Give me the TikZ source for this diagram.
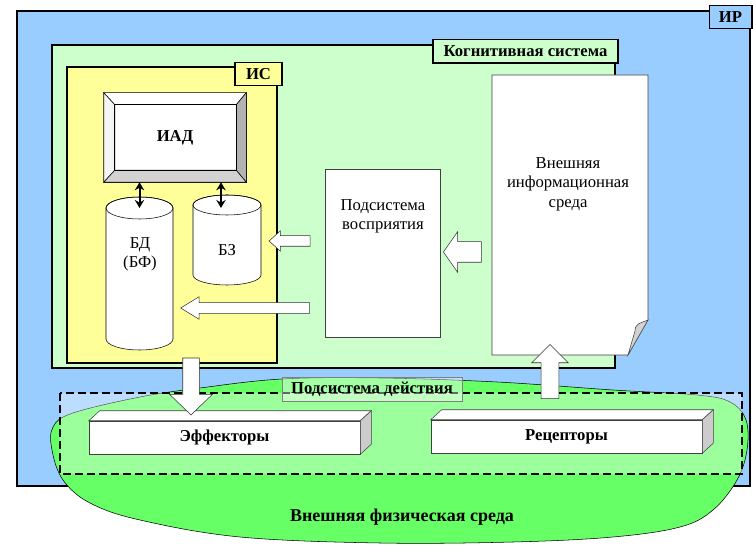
\documentclass[tikz,border=0pt]{standalone}
\usepackage{fontspec}
\setmainfont{Liberation Serif}
\usetikzlibrary{shapes.arrows,arrows.meta,calc}
\definecolor{irblue}{HTML}{99CCFF}
\definecolor{csgreen}{HTML}{CCFFCC}
\definecolor{isyellow}{HTML}{FFFF99}
\definecolor{envgreen}{HTML}{66FF66}
\tikzset{
	txt/.style={font=\rmfamily\fontsize{12.5}{14.5}\selectfont, align=center},
	lbl/.style={font=\rmfamily\bfseries\fontsize{12.5}{14.5}\selectfont, align=center},
	tag/.style={lbl, draw, line width=1pt, inner sep=0pt, minimum height=17.5pt},
	block/.style={draw=black!75, fill=white, inner sep=0pt},
	barrow/.style={single arrow, draw=black!80, fill=white, inner xsep=0pt, minimum height=#1},
	dbl/.style={{Stealth[length=6pt,width=7pt]}-{Stealth[length=6pt,width=7pt]}, line width=1.5pt},
}
\begin{document}
\begin{tikzpicture}[x=0.75pt, y=-0.75pt]
		\useasboundingbox (0,0) rectangle (753,545);
		\draw [line width=1.2pt, fill=irblue] (17,11) rectangle (750,486);
		\node [tag, fill=irblue, minimum width=32pt] (irtag) at (730.5,17) {ИР};
		\draw [line width=1.2pt, fill=csgreen] (52,45) rectangle (615,368);
		\node [tag, fill=csgreen, minimum width=138.75pt] (cstag) at (525.5,51.5) {Когнитивная система};
		\draw [line width=1.2pt, fill=isyellow] (67,67) rectangle (277,363);
		\node [tag, fill=isyellow, minimum width=35.25pt] (istag) at (258.5,74) {ИС};
		% ИАД
		\node [block, draw=black, lbl, minimum width=106.5pt, minimum height=66.75pt] (iad) at (175,137.5) {ИАД};
		\coordinate (inw) at ($(iad.north west)+(11,12)$);
		\coordinate (ine) at ($(iad.north east)+(-10,12)$);
		\coordinate (isw) at ($(iad.south west)+(11,-12)$);
		\coordinate (ise) at ($(iad.south east)+(-10,-12)$);
		\draw [fill=white] (iad.north west) -- (iad.north east) -- (ine) -- (inw) -- cycle;
		\draw [fill=gray!8] (iad.north west) -- (inw) -- (isw) -- (iad.south west) -- cycle;
		\draw [fill=gray!60] (iad.north east) -- (iad.south east) -- (ise) -- (ine) -- cycle;
		\draw [fill=gray!35] (iad.south west) -- (isw) -- (ise) -- (iad.south east) -- cycle;
		\draw (inw) rectangle (ise);
		% БД and БЗ
		\draw [fill=white] (106,208) -- (106,339) arc (180:0:33.5 and 11) -- (173,208) arc (0:-180:33.5 and 11) -- cycle;
		\draw (139.5,208) ellipse (33.5 and 11);
		\coordinate (bdcap) at (139.5,208);
		\node [txt] (bd) at (140,254) {БД\\(БФ)};
		\draw [fill=white] (193,205) -- (193,275) arc (180:0:34 and 10) -- (261,205) arc (0:-180:34 and 10) -- cycle;
		\draw (227,205) ellipse (34 and 10);
		\coordinate (bzcap) at (221,208);
		\node [txt] (bz) at (227,250) {БЗ};
		\draw [dbl] (iad.south -| bdcap) -- (bdcap);
		\draw [dbl] (iad.south -| bzcap) -- (bzcap);
		% Подсистема восприятия
		\node [block, minimum width=86.25pt, minimum height=126pt] (perc) at (382.5,253) {};
		\node [txt] (perctxt) at (383,216) {Подсистема\\восприятия};
		\draw [draw=black!75, fill=white] (492,75) -- (648,75) -- (648,320) -- (628,355) -- (492,355) -- cycle;
		\draw [draw=black!75, fill=gray!35] (648,320) .. controls (641,323) and (635,323) .. (635,331) -- (628,355) -- cycle;
		\node [txt] (doc) at (568,184) {Внешняя\\информационная\\среда};
		\node [barrow=28.5pt, rotate=180, inner ysep=7.5pt, single arrow head extend=7.5pt, single arrow tip angle=110] (a1) at (466,252) {};
		\node [barrow=30.75pt, rotate=180, inner ysep=3.75pt, single arrow head extend=3.75pt, single arrow tip angle=84] (a2) at (292.5,241) {};
		\node [barrow=96.75pt, rotate=180, inner ysep=3.75pt, single arrow head extend=4.5pt, single arrow tip angle=63] (a3) at (249.5,308) {};
		% внешняя физическая среда
		\draw [fill=envgreen] plot [smooth cycle, tension=0.6] coordinates {(53,427) (73,413) (140,397) (200,388) (282,379) (380,378) (497,382) (613,390) (697,395) (730,402) (746,420) (747,450) (737,480) (713,510) (680,527) (613,537) (513,542) (380,543) (240,537) (140,520) (90,503) (63,480) (52,450)};
		\node [lbl, font=\rmfamily\bfseries\fontsize{13.5}{15}\selectfont] (env) at (402,517) {Внешняя физическая среда};
		\draw [line width=2pt, dash pattern=on 6pt off 3pt, fill=white, fill opacity=0.35] (60,393) rectangle (742,474);
		\node [lbl, draw=black!50, fill=white, fill opacity=0.4, text opacity=1, minimum width=135pt, minimum height=18pt, inner sep=0pt] (act) at (372,389) {Подсистема действия};
		\node [block, lbl, minimum width=203.25pt, minimum height=24.75pt] (eff) at (224.5,437.5) {Эффекторы};
		\draw [draw=black!75, fill=white] (eff.north west) -- ++(11,-10) -- ($(eff.north east)+(11,-10)$) -- (eff.north east) -- cycle;
		\draw [draw=black!75, fill=gray!40] (eff.north east) -- ++(11,-10) -- ($(eff.south east)+(11,-10)$) -- (eff.south east) -- cycle;
		\node [block, lbl, minimum width=203.25pt, minimum height=24.75pt] (rec) at (566.5,436.5) {Рецепторы};
		\draw [draw=black!75, fill=white] (rec.north west) -- ++(11,-10) -- ($(rec.north east)+(11,-10)$) -- (rec.north east) -- cycle;
		\draw [draw=black!75, fill=gray!40] (rec.north east) -- ++(11,-10) -- ($(rec.south east)+(11,-10)$) -- (rec.south east) -- cycle;
		\node [barrow=42.75pt, rotate=-90, inner ysep=6pt, single arrow head extend=9.75pt, single arrow tip angle=92] (a4) at (191,382.5) {};
		\node [barrow=40.5pt, rotate=90, inner ysep=6.4pt, single arrow head extend=7pt, single arrow tip angle=90] (a5) at (550,376) {};
\end{tikzpicture}
\end{document}
